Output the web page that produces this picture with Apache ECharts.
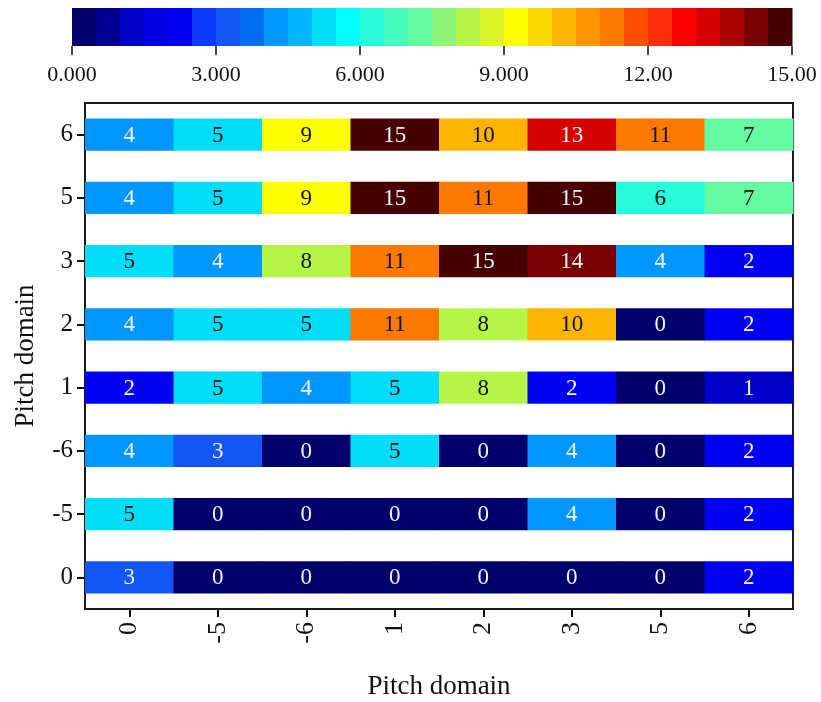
<!DOCTYPE html>
<html>
<head>
<meta charset="utf-8">
<script src="https://cdn.jsdelivr.net/npm/echarts@6/dist/echarts.min.js"></script>
<style>html,body{margin:0;padding:0;background:#fff;}#main{width:821px;height:702px;}</style>
</head>
<body>
<div id="main"></div>
<script>
// ---- data ----
const xCategories = ['0', '-5', '-6', '1', '2', '3', '5', '6'];
const yCategories = ['0', '-5', '-6', '1', '2', '3', '5', '6']; // bottom to top
// each row is one y category (bottom to top), values across x categories
const row_0   = [3, 0, 0, 0, 0, 0, 0, 2];
const row_m5  = [5, 0, 0, 0, 0, 4, 0, 2];
const row_m6  = [4, 3, 0, 5, 0, 4, 0, 2];
const row_1   = [2, 5, 4, 5, 8, 2, 0, 1];
const row_2   = [4, 5, 5, 11, 8, 10, 0, 2];
const row_3   = [5, 4, 8, 11, 15, 14, 4, 2];
const row_5   = [4, 5, 9, 15, 11, 15, 6, 7];
const row_6   = [4, 5, 9, 15, 10, 13, 11, 7];
const rows = [row_0, row_m5, row_m6, row_1, row_2, row_3, row_5, row_6];
const colorbarMin = 0, colorbarMax = 15, colorbarStep = 0.5;
const colorbarTicks = [0, 3, 6, 9, 12, 15];
const colorbarTickLabels = ['0.000', '3.000', '6.000', '9.000', '12.00', '15.00'];

// ---- palette (30 discrete levels) ----
const levelColors = [
  '#00006c', '#000096', '#0000c8', '#0000e1', '#0000f5', '#0a3cff', '#1455f5', '#006ef5',
  '#0096ff', '#00b4ff', '#00dcfa', '#00ffff', '#28fadc', '#46fabe', '#64faa0', '#8cf578',
  '#b4f546', '#dcf528', '#ffff00', '#ffd700', '#ffb400', '#ff9600', '#ff7800', '#ff5000',
  '#ff2d0a', '#ff0000', '#d70000', '#aa0000', '#780000', '#460000'
];

const heatData = [];
rows.forEach((r, yi) => r.forEach((v, xi) => heatData.push([xi, yi, v])));
const barData = [];
for (let k = 0; k < levelColors.length; k++) {
  const lo = colorbarMin + k * colorbarStep;
  barData.push([lo, lo + colorbarStep, lo + colorbarStep / 2]);
}
const pieces = levelColors.map((c, k) => {
  const lo = colorbarMin + k * colorbarStep;
  const p = { gte: lo, color: c };
  if (k === levelColors.length - 1) p.lte = colorbarMax; else p.lt = lo + colorbarStep;
  return p;
});

const FONT = '"Liberation Serif", "Times New Roman", serif';
const chart = echarts.init(document.getElementById('main'));
chart.setOption({
  backgroundColor: '#fff',
  animation: false,
  visualMap: {
    type: 'piecewise', show: false, dimension: 2, seriesIndex: [0, 1], pieces: pieces
  },
  grid: [
    { left: 85, right: 28, top: 103, bottom: 93, containLabel: false, outerBoundsMode: 'none',
      show: true, borderColor: '#1a1a1a', borderWidth: 2, backgroundColor: '#fff' },
    { left: 72, width: 720, top: 8, height: 38, containLabel: false, outerBoundsMode: 'none' }
  ],
  xAxis: [
    {
      gridIndex: 0, type: 'category', data: xCategories,
      axisLine: { show: false },
      axisTick: { show: true, alignWithLabel: true, length: 8, lineStyle: { color: '#111', width: 2 } },
      axisLabel: { rotate: 90, margin: 13, fontSize: 26, fontFamily: FONT, color: '#111' },
      name: 'Pitch domain', nameLocation: 'middle', nameGap: 64,
      nameTextStyle: { fontSize: 27, fontFamily: FONT, color: '#111' }
    },
    {
      gridIndex: 1, type: 'value', min: colorbarMin, max: colorbarMax, interval: 3,
      axisLine: { show: false }, splitLine: { show: false },
      axisTick: { show: true, length: 9, lineStyle: { color: '#111', width: 1.5 } },
      axisLabel: {
        margin: 18, fontSize: 22, fontFamily: FONT, color: '#111',
        formatter: v => { const i = colorbarTicks.indexOf(v); return i >= 0 ? colorbarTickLabels[i] : ''; }
      }
    }
  ],
  yAxis: [
    {
      gridIndex: 0, type: 'category', data: yCategories,
      axisLine: { show: false },
      axisTick: { show: true, alignWithLabel: true, length: 8, lineStyle: { color: '#111', width: 2 } },
      axisLabel: { margin: 12, fontSize: 25, fontFamily: FONT, color: '#111' },
      name: 'Pitch domain', nameLocation: 'middle', nameGap: 46,
      nameTextStyle: { fontSize: 27, fontFamily: FONT, color: '#111' }
    },
    { gridIndex: 1, type: 'category', data: ['bar'], show: false }
  ],
  series: [
    {
      type: 'custom', xAxisIndex: 0, yAxisIndex: 0, data: heatData,
      encode: { x: 0, y: 1 },
      renderItem: function (params, api) {
        const v = api.value(2);
        const c = api.coord([api.value(0), api.value(1)]);
        const s = api.size([1, 1]);
        const h = s[1] * 0.51;
        const dark = v <= 4 || v >= 13;
        return {
          type: 'group',
          children: [
            { type: 'rect', shape: { x: c[0] - s[0] / 2, y: c[1] - h / 2, width: s[0] + 0.5, height: h },
              style: { fill: api.visual('color') } },
            { type: 'text', style: { text: String(v), x: c[0], y: c[1] + 1, align: 'center', verticalAlign: 'middle',
              fill: dark ? '#f4f4f4' : '#111', fontSize: 23, fontFamily: FONT } }
          ]
        };
      }
    },
    {
      type: 'custom', xAxisIndex: 1, yAxisIndex: 1, data: barData,
      encode: { x: [0, 1] },
      renderItem: function (params, api) {
        const a = api.coord([api.value(0), 0]);
        const b = api.coord([api.value(1), 0]);
        const s = api.size([0, 1]);
        return { type: 'rect', shape: { x: a[0], y: a[1] - s[1] / 2, width: b[0] - a[0] + 0.5, height: s[1] },
          style: { fill: api.visual('color') } };
      }
    }
  ]
});
</script>
</body>
</html>
